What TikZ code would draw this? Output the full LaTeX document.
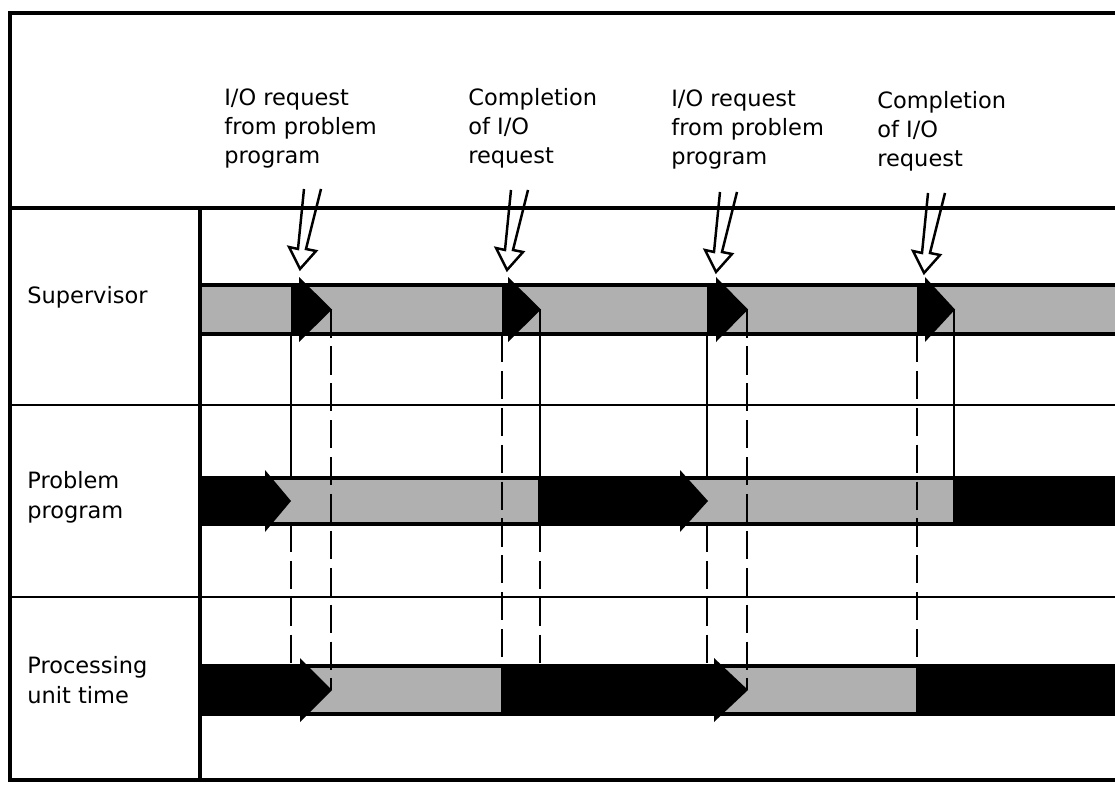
\documentclass[tikz,border=0pt]{standalone}
\usepackage{fontspec}
\setmainfont{DejaVu Sans}
\definecolor{stip}{RGB}{176,176,176}
\newcommand{\blkarrow}[5]{% x0, xhead, xtip, top, bottom
  \fill[black] ({#1},{#4}) -- ({#2},{#4}) -- ({#2},{#4-8}) -- ({#3},{(#4+#5)/2}) -- ({#2},{#5+8}) -- ({#2},{#5}) -- ({#1},{#5}) -- cycle;}
\begin{document}
\begin{tikzpicture}[x=0.02cm,y=-0.02cm,
  frame/.style={line width=1.8pt},
  sepline/.style={line width=1.4pt},
  barfill/.style={fill=stip, draw=black, line width=1.8pt},
  solidlink/.style={line width=1.3pt},
  dashlink/.style={line width=1.3pt, dash pattern=on 16pt off 5pt},
  lbl/.style={font=\fontsize{12.8}{16.6}\selectfont, anchor=base west, align=left, inner sep=0pt},
  hollowarr/.pic={\draw[line width=1.4pt, line join=miter] (4,-80) -- (-2,-20) -- (-11,-22) -- (0,0) -- (16,-18) -- (6,-20) -- (21,-80);}
]
\useasboundingbox (0,0) rectangle (1115,787);
\clip (0,0) rectangle (1115,787);
% row levels
\coordinate (supT) at (0,285);
\coordinate (supB) at (0,334);
\coordinate (supM) at (0,309.5);
\coordinate (proT) at (0,478);
\coordinate (proB) at (0,524);
\coordinate (prcT) at (0,666);
\coordinate (prcM) at (0,690);
% event columns
\coordinate (e1a) at (291,0); \coordinate (e1b) at (331,0);
\coordinate (e2a) at (502,0); \coordinate (e2b) at (540,0);
\coordinate (e3a) at (707,0); \coordinate (e3b) at (747,0);
\coordinate (e4a) at (917,0); \coordinate (e4b) at (954,0);
% frame
\draw[frame] (1120,13) -- (10,13) -- (10,780) -- (1120,780);
\draw[frame] (10,208) -- (1120,208);
\draw[frame] (200,208) -- (200,780);
\draw[sepline] (10,405) -- (1120,405);
\draw[sepline] (10,597) -- (1120,597);
% bars
\filldraw[barfill] (200,285) rectangle (1130,334);
\filldraw[barfill] (200,478) rectangle (1130,524);
\filldraw[barfill] (200,666) rectangle (1130,714);
% supervisor black arrows
\blkarrow{291}{299}{332}{285}{334}
\blkarrow{502}{508}{541}{285}{334}
\blkarrow{707}{716}{748}{285}{334}
\blkarrow{917}{925}{955}{285}{334}
% problem program
\blkarrow{199}{265}{291}{478}{524}
\blkarrow{538}{680}{708}{478}{524}
\fill[black] (953,478) rectangle (1130,524);
% processing unit time
\blkarrow{199}{300}{332}{666}{714}
\blkarrow{501}{714}{748}{666}{714}
\fill[black] (916,666) rectangle (1130,714);
% connectors
\draw[solidlink] (e1a |- supB) -- (e1a |- proT);
\draw[dashlink] (e1a |- proB) -- (e1a |- prcT);
\draw[dashlink] (e1b |- supM) -- (e1b |- prcM);
\draw[dashlink] (e2a |- supB) -- (e2a |- prcT);
\draw[solidlink] (e2b |- supM) -- (e2b |- proT);
\draw[dashlink] (e2b |- proB) -- (e2b |- prcT);
\draw[solidlink] (e3a |- supB) -- (e3a |- proT);
\draw[dashlink] (e3a |- proB) -- (e3a |- prcT);
\draw[dashlink] (e3b |- supM) -- (e3b |- prcM);
\draw[dashlink] (e4a |- supB) -- (e4a |- prcT);
\draw[solidlink] (e4b |- supM) -- (e4b |- proT);
% hollow arrows
\pic at (300,269) {hollowarr};
\pic at (507,270) {hollowarr};
\pic at (716,272) {hollowarr};
\pic at (924,273) {hollowarr};
% header labels (anchor = baseline of last line)
\node[lbl] (h1) at (224,164) {I/O request\\from problem\\program};
\node[lbl] (h2) at (468,164) {Completion\\of I/O\\request};
\node[lbl] (h3) at (671,165) {I/O request\\from problem\\program};
\node[lbl] (h4) at (877,167) {Completion\\of I/O\\request};
% row labels
\node[lbl] (r1) at (27,303) {Supervisor};
\node[lbl] (r2) at (27,518) {Problem\\program};
\node[lbl] (r3) at (27,703) {Processing\\unit time};
\end{tikzpicture}
\end{document}
